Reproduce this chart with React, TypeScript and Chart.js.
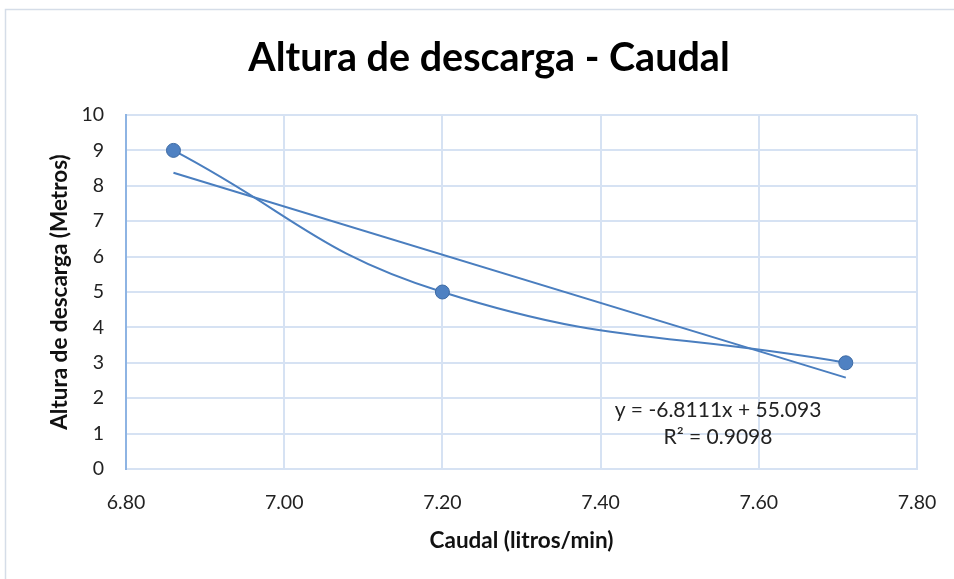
import React, { useEffect, useRef } from "react";
import { Chart, registerables } from "chart.js";

Chart.register(...registerables);

const caudal = [6.86, 7.2, 7.71];
const altura = [9, 5, 3];
const trendX = [6.86, 7.71];
const trendY = [8.37, 2.58];
const xTicks = [6.8, 7.0, 7.2, 7.4, 7.6, 7.8];
const yTicks = [0, 1, 2, 3, 4, 5, 6, 7, 8, 9, 10];
const chartTitle = "Altura de descarga - Caudal";
const xTitle = "Caudal (litros/min)";
const yTitle = "Altura de descarga (Metros)";
const equationLines = ["y = -6.8111x + 55.093", "R² = 0.9098"];

const FONT = "Lato, 'Open Sans', sans-serif";

const decorPlugin = {
  id: "decor",
  beforeDraw(chart: any) {
    const ctx = chart.ctx;
    ctx.save();
    ctx.strokeStyle = "#d5dde8";
    ctx.lineWidth = 1.5;
    ctx.beginPath();
    ctx.moveTo(5.5, chart.height);
    ctx.lineTo(5.5, 9.5);
    ctx.lineTo(chart.width, 9.5);
    ctx.stroke();
    ctx.restore();
  },
  afterDraw(chart: any) {
    const ctx = chart.ctx;
    ctx.save();
    ctx.fillStyle = "#000";
    ctx.textAlign = "center";
    ctx.textBaseline = "alphabetic";
    ctx.font = `bold 39.5px ${FONT}`;
    ctx.fillText(chartTitle, 489, 71);
    ctx.fillStyle = "#222";
    ctx.font = `21px ${FONT}`;
    ctx.fillText(equationLines[0], 718, 417);
    ctx.fillText(equationLines[1], 718, 444);
    ctx.restore();
  },
};

export default function App() {
  const ref = useRef<HTMLCanvasElement | null>(null);
  useEffect(() => {
    document.body.style.margin = "0";
    const canvas = ref.current!;
    const chart = new Chart(canvas, {
      type: "scatter",
      data: {
        datasets: [
          {
            label: "Datos",
            data: caudal.map((x, i) => ({ x, y: altura[i] })),
            showLine: true,
            tension: 0.45,
            borderColor: "#4a7ebf",
            borderWidth: 2,
            backgroundColor: "#4a7ebf",
            pointBackgroundColor: "#4f81c2",
            pointBorderColor: "#3d6aa3",
            pointBorderWidth: 1,
            pointRadius: 7,
            order: 1,
          },
          {
            label: "Tendencia",
            data: trendX.map((x, i) => ({ x, y: trendY[i] })),
            showLine: true,
            tension: 0,
            borderColor: "#4a7ebf",
            borderWidth: 2,
            pointRadius: 0,
            order: 2,
          },
        ],
      },
      options: {
        animation: false,
        responsive: false,
        maintainAspectRatio: false,
        events: [],
        layout: { padding: { left: 0, right: 37, top: 115, bottom: 0 } },
        plugins: {
          legend: { display: false },
          title: { display: false },
          tooltip: { enabled: false },
        },
        scales: {
          x: {
            type: "linear",
            min: 6.8,
            max: 7.8,
            afterBuildTicks: (s: any) => {
              s.ticks = xTicks.map((v) => ({ value: v }));
            },
            afterFit: (s: any) => {
              s.height = 110;
              s.paddingLeft = 0;
              s.paddingRight = 0;
            },
            ticks: {
              padding: 22,
              color: "#222",
              font: { family: FONT, size: 19.5 },
              callback: (v: any) => Number(v).toFixed(2),
            },
            grid: { color: "#d6e2f3", lineWidth: 2, drawTicks: false },
            border: { display: true, color: "#d6e2f3", width: 2 },
            title: {
              display: true,
              text: xTitle,
              color: "#111",
              font: { family: FONT, size: 22.5, weight: "bold" },
              padding: { top: 0, bottom: 24.5 },
            },
          },
          y: {
            type: "linear",
            min: 0,
            max: 10,
            afterBuildTicks: (s: any) => {
              s.ticks = yTicks.map((v) => ({ value: v }));
            },
            afterFit: (s: any) => {
              s.width = 126;
              s.paddingTop = 0;
              s.paddingBottom = 0;
            },
            ticks: {
              padding: 22,
              color: "#222",
              font: { family: FONT, size: 19.5 },
            },
            grid: { color: "#d6e2f3", lineWidth: 2, drawTicks: false },
            border: { display: true, color: "#8eb4e3", width: 2 },
            title: {
              display: true,
              text: yTitle,
              color: "#111",
              font: { family: FONT, size: 22.5, weight: "bold" },
              padding: { top: 46.5, bottom: 0 },
            },
          },
        },
      },
      plugins: [decorPlugin],
    } as any);
    return () => chart.destroy();
  }, []);
  return <canvas ref={ref} width={954} height={579} style={{ display: "block" }} />;
}
